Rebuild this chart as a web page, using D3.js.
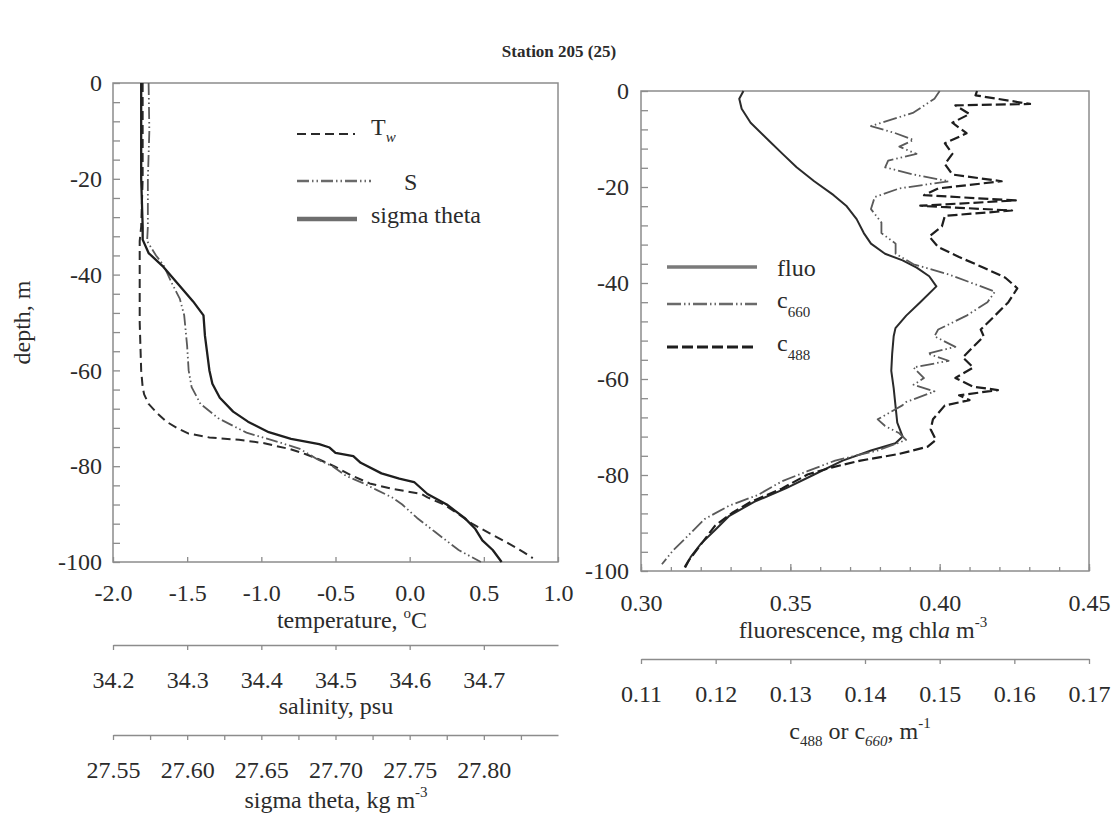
<!DOCTYPE html>
<html>
<head>
<meta charset="utf-8">
<script src="https://cdn.jsdelivr.net/npm/d3@7"></script>
<style>
  body { margin: 0; background: #fff; }
  svg { display: block; }
  svg text { font-family: "Liberation Serif", "DejaVu Serif", serif; }
</style>
</head>
<body>
<svg></svg>
<script>
// Station 205 (25) - CTD and optics profiles, redrawn with d3

// ---- data ----
let tempDepth = [0, -10, -20, -30, -33, -40, -50, -60, -63.5, -65, -67, -69, -70.7, -72, -73.2, -74, -74.5, -75.2,
    -75.8, -76.4, -77.5, -78.6, -80, -81.8, -83.6, -84.7, -85.8, -86.5, -88, -90, -92, -94, -96, -98, -99.2];
let tempVals = [-1.80, -1.80, -1.80, -1.81, -1.82, -1.82, -1.82, -1.81, -1.80, -1.79, -1.76, -1.70, -1.64, -1.57, -1.49, -1.35, -1.15, -0.98,
    -0.90, -0.81, -0.70, -0.61, -0.51, -0.40, -0.27, -0.12, 0.08, 0.12, 0.23, 0.33, 0.42, 0.54, 0.66, 0.77, 0.83];

let salDepth = [0, -10, -20, -30, -33, -36, -38, -42, -45, -48.5, -55, -60, -63.5, -67, -70, -73, -75, -76.4,
    -78.6, -80, -82, -83.6, -85, -86.5, -88, -90.8, -93.7, -97.5, -100];
let salVals = [34.248, 34.249, 34.247, 34.247, 34.246, 34.258, 34.268, 34.280, 34.290, 34.296, 34.300, 34.302, 34.306, 34.318, 34.342, 34.380, 34.424, 34.452,
    34.476, 34.496, 34.514, 34.538, 34.556, 34.576, 34.590, 34.610, 34.634, 34.666, 34.696];

let sigDepth = [0, -10, -20, -30, -32.7, -35.5, -38.4, -42, -45.6, -48.5, -52.8, -60, -62.8, -65.7, -68.6, -70.7, -72.9, -74.3,
    -75.4, -76.1, -77.2, -77.9, -79.3, -81.5, -82.6, -83.3, -85.8, -88, -90.8, -93, -95.5, -97.5, -100];
let sigVals = [27.569, 27.569, 27.569, 27.570, 27.570, 27.574, 27.584, 27.594, 27.604, 27.611, 27.612, 27.615, 27.617, 27.622, 27.631, 27.641, 27.655, 27.670,
    27.689, 27.696, 27.700, 27.712, 27.717, 27.731, 27.743, 27.753, 27.762, 27.775, 27.787, 27.794, 27.799, 27.806, 27.812];

let fluoDepth = [0, -1.6, -3.7, -6.6, -10.2, -13.1, -15.9, -18.8, -21.7, -23.9, -26.7, -29.6, -31.8, -33.9, -35.3, -36.8, -38.6, -40.7,
    -44, -46.8, -49.4, -51.1, -54.7, -58.3, -61.9, -65.5, -69.1, -72, -73.4, -74.9, -77, -79.9, -82.8, -85.6, -88.5, -91.4, -94.3, -97.1, -99.3];
let fluoVals = [0.3343, 0.3329, 0.3337, 0.3367, 0.3426, 0.3474, 0.3521, 0.3580, 0.3645, 0.3687, 0.3722, 0.3746, 0.3770, 0.3817, 0.3876, 0.3923, 0.3965, 0.3989,
    0.3935, 0.3888, 0.3852, 0.3846, 0.3841, 0.3838, 0.3846, 0.3852, 0.3858, 0.3876, 0.3852, 0.3770, 0.3675, 0.3580, 0.3485, 0.3379, 0.3296, 0.3249, 0.3201, 0.3166, 0.3148];

let c488Depth = [0, -0.9, -2.7, -3, -4.8, -6.6, -8.8, -10.9, -13.1, -15.2, -17.4, -18.8, -20.3, -21.7, -22.8, -23.9, -24.9, -26, -28.2, -30.3,
    -32.5, -34.6, -36.8, -38.9, -41.1, -44, -46.8, -49.7, -51.1, -53.3, -55.5, -57.6, -59.8, -61.6, -62.3, -63.4, -64.4, -65.5, -68.4, -70.5,
    -72.7, -74.1, -75.6, -77, -78.4, -79.9, -82.8, -85.6, -87.8, -90.6, -94.3, -97.8, -99.6];
let c488Vals = [0.1550, 0.1548, 0.1621, 0.1521, 0.1540, 0.1517, 0.1536, 0.1507, 0.1517, 0.1507, 0.1517, 0.1583, 0.1498, 0.1479, 0.1602, 0.1474, 0.1597, 0.1507, 0.1503, 0.1486,
    0.1498, 0.1526, 0.1559, 0.1588, 0.1604, 0.1592, 0.1574, 0.1555, 0.1559, 0.1545, 0.1531, 0.1545, 0.1521, 0.1545, 0.1578, 0.1526, 0.1540, 0.1507, 0.1491, 0.1488,
    0.1495, 0.1484, 0.1446, 0.1394, 0.1356, 0.1323, 0.1289, 0.1247, 0.1223, 0.1199, 0.1181, 0.1164, 0.1157];

let c660Depth = [0, -1.6, -4.5, -7.3, -8.8, -10.2, -11.6, -13.1, -14.5, -15.9, -17.4, -18.8, -20.3, -22.1, -24.6, -27.4, -29.6, -31.8, -33.9, -36.1,
    -38.2, -40.4, -41.8, -44, -46.8, -49.7, -51.1, -53.3, -54.7, -56.2, -57.6, -59.8, -61.2, -62.6, -64.8, -65.5, -68.4, -69.8, -71.3, -72.7,
    -74.9, -77, -79.2, -81.3, -84.2, -86.4, -89.2, -92.8, -95.7, -98.6];
let c660Vals = [0.1500, 0.1493, 0.1465, 0.1408, 0.1441, 0.1465, 0.1446, 0.1469, 0.1431, 0.1427, 0.1465, 0.1512, 0.1446, 0.1413, 0.1408, 0.1422, 0.1422, 0.1441, 0.1441, 0.1465,
    0.1512, 0.1550, 0.1574, 0.1564, 0.1536, 0.1498, 0.1493, 0.1521, 0.1484, 0.1512, 0.1465, 0.1479, 0.1465, 0.1493, 0.1455, 0.1450, 0.1417, 0.1427, 0.1446, 0.1455,
    0.1417, 0.1360, 0.1323, 0.1289, 0.1256, 0.1218, 0.1185, 0.1162, 0.1143, 0.1128];

// tick labels
let depthTicks = [0, -20, -40, -60, -80, -100];
let tempTicks = [-2.0, -1.5, -1.0, -0.5, 0.0, 0.5, 1.0];
let salTicks = [34.2, 34.3, 34.4, 34.5, 34.6, 34.7];
let sigTicks = [27.55, 27.60, 27.65, 27.70, 27.75, 27.80];
let fluoTicks = [0.30, 0.35, 0.40, 0.45];
let cTicks = [0.11, 0.12, 0.13, 0.14, 0.15, 0.16, 0.17];

let title = "Station 205 (25)";

// ---- layout ----
let width = 1115,
    height = 823;
let serif = "Liberation Serif, DejaVu Serif, serif";
let ink = "#2b2b2b",
    frameGrey = "#8c8c8c";

let L = {x0: 113, x1: 558, y0: 83, y1: 562};
let R = {x0: 641, x1: 1089, y0: 91, y1: 571};

let svg = d3.select("svg")
    .attr("width", width)
    .attr("height", height);

// scales - the three left profiles share one box, the two optics ones the other
let xT = d3.scaleLinear().domain([-2, 1]).range([L.x0, L.x1]);
let xS = d3.scaleLinear().domain([34.2, 34.8]).range([L.x0, L.x1]);
let xSig = d3.scaleLinear().domain([27.55, 27.85]).range([L.x0, L.x1]);
let yL = d3.scaleLinear().domain([0, -100]).range([L.y0, L.y1]);

let xF = d3.scaleLinear().domain([0.30, 0.45]).range([R.x0, R.x1]);
let xC = d3.scaleLinear().domain([0.11, 0.17]).range([R.x0, R.x1]);
let yR = d3.scaleLinear().domain([0, -100]).range([R.y0, R.y1]);

// common look for every axis group
function styleAxis(g, keepDomain) {
    g.attr("font-family", serif).attr("font-size", 24);
    if (keepDomain) {
        g.select(".domain").attr("stroke", frameGrey).attr("stroke-width", 1.5);
    } else {
        g.select(".domain").remove();
    }
    g.selectAll(".tick line").attr("stroke", frameGrey).attr("stroke-width", 1.3);
    g.selectAll(".tick text").attr("fill", ink);
}

// title
svg.append("text")
    .attr("x", 559)
    .attr("y", 57)
    .attr("text-anchor", "middle")
    .attr("font-weight", "bold")
    .attr("font-size", 17)
    .attr("fill", ink)
    .text(title);

// ---------- left panel ----------
let left = svg.append("g");

left.append("g")
    .attr("transform", `translate(${L.x0},0)`)
    .call(d3.axisLeft(yL)
        .tickValues(d3.range(0, -101, -4))
        .tickSize(-7)
        .tickPadding(11)
        .tickFormat(d => depthTicks.includes(d) ? String(d) : ""))
    .call(g => styleAxis(g, false));

left.append("g")
    .attr("transform", `translate(0,${L.y1})`)
    .call(d3.axisBottom(xT)
        .tickValues(tempTicks)
        .tickSize(-5)
        .tickPadding(22)
        .tickFormat(d => d.toFixed(1)))
    .call(g => styleAxis(g, false));

left.append("rect")
    .attr("x", L.x0).attr("y", L.y0)
    .attr("width", L.x1 - L.x0).attr("height", L.y1 - L.y0)
    .attr("fill", "none")
    .attr("stroke", frameGrey)
    .attr("stroke-width", 1.5);

let tempTitle = left.append("text")
    .attr("x", 352).attr("y", 628)
    .attr("text-anchor", "middle")
    .attr("font-size", 24)
    .attr("fill", ink);
tempTitle.append("tspan").text("temperature, ");
tempTitle.append("tspan").attr("dy", -10).attr("font-size", 15).text("o");
tempTitle.append("tspan").attr("dy", 10).text("C");

left.append("text")
    .attr("x", 22).attr("y", (L.y0 + L.y1) / 2)
    .attr("transform", `rotate(-90,22,${(L.y0 + L.y1) / 2})`)
    .attr("text-anchor", "middle")
    .attr("dominant-baseline", "central")
    .attr("font-size", 24)
    .attr("fill", ink)
    .text("depth, m");

// salinity axis
left.append("g")
    .attr("transform", "translate(0,645)")
    .call(d3.axisBottom(xS)
        .tickValues(salTicks)
        .tickSize(5)
        .tickSizeOuter(0)
        .tickPadding(21)
        .tickFormat(d => d.toFixed(1)))
    .call(g => styleAxis(g, true));

left.append("text")
    .attr("x", 336).attr("y", 714)
    .attr("text-anchor", "middle")
    .attr("font-size", 24)
    .attr("fill", ink)
    .text("salinity, psu");

// sigma theta axis, minor ticks every 0.025
left.append("g")
    .attr("transform", "translate(0,735)")
    .call(d3.axisBottom(xSig)
        .tickValues(d3.range(12).map(i => 27.55 + i * 0.025))
        .tickSize(5)
        .tickSizeOuter(0)
        .tickPadding(21)
        .tickFormat((d, i) => i % 2 === 0 && i / 2 < sigTicks.length ? sigTicks[i / 2].toFixed(2) : ""))
    .call(g => styleAxis(g, true));

let sigTitle = left.append("text")
    .attr("x", 336).attr("y", 808)
    .attr("text-anchor", "middle")
    .attr("font-size", 24)
    .attr("fill", ink);
sigTitle.append("tspan").text("sigma theta, kg m");
sigTitle.append("tspan").attr("dy", -11).attr("font-size", 15).text("-3");

// profiles
let leftSeries = [
    {depth: tempDepth, vals: tempVals, x: xT, color: "#2a2a2a", width: 2, dash: "9,5"},
    {depth: salDepth, vals: salVals, x: xS, color: "#5a5a5a", width: 1.8, dash: "12,3,1.5,3,1.5,3"},
    {depth: sigDepth, vals: sigVals, x: xSig, color: "#1e1e1e", width: 2.3, dash: null}
];

for (let s of leftSeries) {
    let line = d3.line()
        .x(d => s.x(d[1]))
        .y(d => yL(d[0]));
    left.append("path")
        .datum(d3.zip(s.depth, s.vals))
        .attr("d", line)
        .attr("fill", "none")
        .attr("stroke", s.color)
        .attr("stroke-width", s.width)
        .attr("stroke-dasharray", s.dash)
        .attr("stroke-linejoin", "round");
}

// legend (left)
let legL = left.append("g").attr("font-size", 24).attr("fill", ink);
legL.append("line").attr("x1", 297).attr("x2", 355).attr("y1", 134).attr("y2", 134)
    .attr("stroke", "#2a2a2a").attr("stroke-width", 2).attr("stroke-dasharray", "9,5");
legL.append("line").attr("x1", 297).attr("x2", 371).attr("y1", 181).attr("y2", 181)
    .attr("stroke", "#6a6a6a").attr("stroke-width", 2.5).attr("stroke-dasharray", "12,3,1.5,3,1.5,3");
legL.append("line").attr("x1", 297).attr("x2", 357).attr("y1", 219).attr("y2", 219)
    .attr("stroke", "#6e6e6e").attr("stroke-width", 4.5);

let tw = legL.append("text").attr("x", 371).attr("y", 135);
tw.append("tspan").text("T");
tw.append("tspan").attr("dy", 7).attr("font-size", 15).attr("font-style", "italic").text("w");
legL.append("text").attr("x", 404).attr("y", 190).text("S");
legL.append("text").attr("x", 371).attr("y", 223).text("sigma theta");

// ---------- right panel ----------
let right = svg.append("g");

right.append("g")
    .attr("transform", `translate(${R.x0},0)`)
    .call(d3.axisLeft(yR)
        .tickValues(d3.range(0, -101, -4))
        .tickSize(-7)
        .tickPadding(12)
        .tickFormat(d => depthTicks.includes(d) ? String(d) : ""))
    .call(g => styleAxis(g, false));

// minor ticks every 0.01
right.append("g")
    .attr("transform", `translate(0,${R.y1})`)
    .call(d3.axisBottom(xF)
        .tickValues(d3.range(16).map(i => 0.30 + i * 0.01))
        .tickSize(-4)
        .tickFormat(""))
    .call(g => styleAxis(g, false));

right.append("g")
    .attr("transform", `translate(0,${R.y1})`)
    .call(d3.axisBottom(xF)
        .tickValues(fluoTicks)
        .tickSize(-7)
        .tickPadding(23)
        .tickFormat(d => d.toFixed(2)))
    .call(g => styleAxis(g, false));

right.append("rect")
    .attr("x", R.x0).attr("y", R.y0)
    .attr("width", R.x1 - R.x0).attr("height", R.y1 - R.y0)
    .attr("fill", "none")
    .attr("stroke", frameGrey)
    .attr("stroke-width", 1.5);

let fluoTitle = right.append("text")
    .attr("x", 863).attr("y", 638)
    .attr("text-anchor", "middle")
    .attr("font-size", 24)
    .attr("fill", ink);
fluoTitle.append("tspan").text("fluorescence, mg chl");
fluoTitle.append("tspan").attr("font-style", "italic").text("a");
fluoTitle.append("tspan").text(" m");
fluoTitle.append("tspan").attr("dy", -11).attr("font-size", 15).text("-3");

// beam attenuation axis
right.append("g")
    .attr("transform", "translate(0,659)")
    .call(d3.axisBottom(xC)
        .tickValues(cTicks)
        .tickSize(5)
        .tickSizeOuter(0)
        .tickPadding(21)
        .tickFormat(d => d.toFixed(2)))
    .call(g => styleAxis(g, true));

let cTitle = right.append("text")
    .attr("x", 860).attr("y", 739)
    .attr("text-anchor", "middle")
    .attr("font-size", 24)
    .attr("fill", ink);
cTitle.append("tspan").text("c");
cTitle.append("tspan").attr("dy", 7).attr("font-size", 15).text("488");
cTitle.append("tspan").attr("dy", -7).text(" or c");
cTitle.append("tspan").attr("dy", 7).attr("font-size", 15).attr("font-style", "italic").text("660");
cTitle.append("tspan").attr("dy", -7).text(", m");
cTitle.append("tspan").attr("dy", -11).attr("font-size", 15).text("-1");

let rightSeries = [
    {depth: fluoDepth, vals: fluoVals, x: xF, color: "#2a2a2a", width: 2, dash: null},
    {depth: c660Depth, vals: c660Vals, x: xC, color: "#5a5a5a", width: 1.8, dash: "14,3,1.5,3,1.5,3"},
    {depth: c488Depth, vals: c488Vals, x: xC, color: "#1e1e1e", width: 2.2, dash: "10,4"}
];

for (let s of rightSeries) {
    let line = d3.line()
        .x(d => s.x(d[1]))
        .y(d => yR(d[0]));
    right.append("path")
        .datum(d3.zip(s.depth, s.vals))
        .attr("d", line)
        .attr("fill", "none")
        .attr("stroke", s.color)
        .attr("stroke-width", s.width)
        .attr("stroke-dasharray", s.dash)
        .attr("stroke-linejoin", "round");
}

// legend (right)
let legR = right.append("g").attr("font-size", 24).attr("fill", ink);
legR.append("line").attr("x1", 667).attr("x2", 757).attr("y1", 267).attr("y2", 267)
    .attr("stroke", "#7a7a7a").attr("stroke-width", 3.5);
legR.append("line").attr("x1", 667).attr("x2", 757).attr("y1", 304).attr("y2", 304)
    .attr("stroke", "#6a6a6a").attr("stroke-width", 2.5).attr("stroke-dasharray", "14,3,1.5,3,1.5,3");
legR.append("line").attr("x1", 667).attr("x2", 757).attr("y1", 347).attr("y2", 347)
    .attr("stroke", "#1e1e1e").attr("stroke-width", 3).attr("stroke-dasharray", "11,4");

legR.append("text").attr("x", 777).attr("y", 276).text("fluo");
let l660 = legR.append("text").attr("x", 777).attr("y", 308);
l660.append("tspan").text("c");
l660.append("tspan").attr("dy", 9).attr("font-size", 15).text("660");
let l488 = legR.append("text").attr("x", 777).attr("y", 351);
l488.append("tspan").text("c");
l488.append("tspan").attr("dy", 9).attr("font-size", 15).text("488");
</script>
</body>
</html>
